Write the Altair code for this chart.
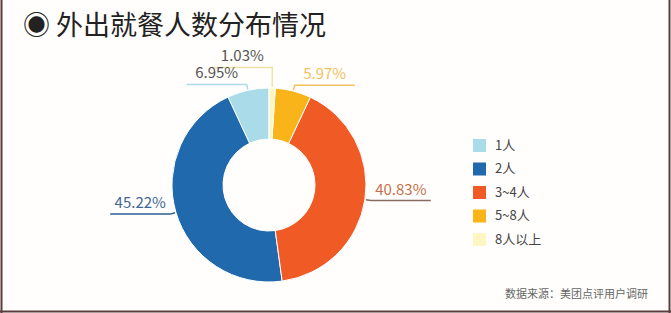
import math
import altair as alt
import pandas as pd

categories = ["1人", "2人", "3~4人", "5~8人", "8人以上"]
shares = [6.95, 45.22, 40.83, 5.97, 1.03]
colors = ["#a9dbe9", "#1f69ac", "#f05a24", "#f8b419", "#fdf6c3"]
label_colors = ["#555555", "#3f6794", "#c5714b", "#f1c160", "#555555"]
line_colors = ["#a9dbe9", "#2c5f93", "#8a6b62", "#f1c160", "#efe3a6"]
title_text = "◉ 外出就餐人数分布情况"
source_text = "数据来源：美团点评用户调研"

W, H = 671, 313
CX, CY = 269, 185
R_OUT, R_IN = 97, 46
FONT = "Noto Sans CJK SC"

df = pd.DataFrame({"cat": categories, "share": shares, "idx": list(range(len(categories)))})

# slices run clockwise from 12 o'clock in reverse legend order
ring = list(reversed(range(len(categories))))
cum = 0.0
labels = []
for i in ring:
    mid = math.radians((cum + shares[i] / 2) / 100 * 360)
    cum += shares[i]
    s, c = math.sin(mid), math.cos(mid)
    labels.append({
        "i": i,
        "sx": CX + (R_OUT + 1) * s, "sy": CY - (R_OUT + 1) * c,
        "ex": CX + (R_OUT + 6) * s, "ey": CY - (R_OUT + 6) * c,
        "side": 1 if s > 0.1 else -1,
    })

# simple vertical de-overlap per side (push upwards)
GAP = 17
for side in (1, -1):
    items = sorted([l for l in labels if l["side"] == side], key=lambda l: -l["ey"])
    for k in range(1, len(items)):
        if items[k]["ey"] > items[k - 1]["ey"] - GAP:
            items[k]["ey"] = items[k - 1]["ey"] - GAP

UL = 60
line_rows, text_rows = [], []
for l in labels:
    i = l["i"]
    endx = l["ex"] + l["side"] * UL
    pts = [(l["sx"], l["sy"]), (l["ex"], l["ey"]), (endx, l["ey"])]
    for k, (px, py) in enumerate(pts):
        line_rows.append({"lab": categories[i], "k": k, "px": px, "py": py, "lc": line_colors[i]})
    text_rows.append({
        "lab": categories[i], "tx": (l["ex"] + endx) / 2, "ty": l["ey"] - 3,
        "txt": f"{shares[i]:.2f}%", "tc": label_colors[i],
    })
lines_df = pd.DataFrame(line_rows)
text_df = pd.DataFrame(text_rows)

arcs = alt.Chart(df).mark_arc(radius=R_OUT, innerRadius=R_IN, stroke="white", strokeWidth=1).encode(
    theta=alt.Theta("share:Q", stack=True),
    order=alt.Order("idx:Q", sort="descending"),
    color=alt.Color(
        "cat:N",
        scale=alt.Scale(domain=categories, range=colors),
        sort=categories,
        legend=alt.Legend(
            title=None, orient="none", legendX=473, legendY=139,
            symbolType="square", symbolSize=169, symbolStrokeWidth=0, symbolOpacity=1,
            labelFont=FONT, labelFontSize=13, labelColor="#444444",
            rowPadding=9.5, labelOffset=9,
        ),
    ),
    x=alt.value(CX),
    y=alt.value(CY),
)

leaders = alt.Chart(lines_df).mark_line(strokeWidth=1.5).encode(
    x=alt.X("px:Q", scale=None),
    y=alt.Y("py:Q", scale=None),
    detail="lab:N",
    order="k:O",
    stroke=alt.Stroke("lc:N", scale=None),
)

texts = alt.Chart(text_df).mark_text(font=FONT, fontSize=15, align="center", baseline="bottom").encode(
    x=alt.X("tx:Q", scale=None),
    y=alt.Y("ty:Q", scale=None),
    text="txt:N",
    fill=alt.Fill("tc:N", scale=None),
)

title = alt.Chart(pd.DataFrame({"t": [title_text]})).mark_text(
    font=FONT, fontSize=27, align="left", baseline="middle", color="#222222"
).encode(x=alt.value(23), y=alt.value(27), text="t:N")

source = alt.Chart(pd.DataFrame({"t": [source_text]})).mark_text(
    font=FONT, fontSize=11, align="right", baseline="middle", color="#666666"
).encode(x=alt.value(648), y=alt.value(295), text="t:N")

border_color = "#5b3c3e"
left_b = alt.Chart(pd.DataFrame({"a": [0]})).mark_rule(color=border_color, strokeWidth=2).encode(
    x=alt.value(1.5), y=alt.value(0), y2=alt.value(H))
right_b = alt.Chart(pd.DataFrame({"a": [0]})).mark_rule(color=border_color, strokeWidth=2).encode(
    x=alt.value(669.5), y=alt.value(0), y2=alt.value(H))
bottom_b = alt.Chart(pd.DataFrame({"a": [0]})).mark_rule(color=border_color, strokeWidth=2).encode(
    x=alt.value(0), x2=alt.value(W), y=alt.value(311.5))

chart = alt.layer(arcs, leaders, texts, title, source, left_b, right_b, bottom_b).properties(
    width=W, height=H, padding=0, autosize=alt.AutoSizeParams(type="none"), background="#fffefc"
).configure_view(stroke=None)

chart.save("out.html", embed_options={"renderer": "svg", "actions": False})
